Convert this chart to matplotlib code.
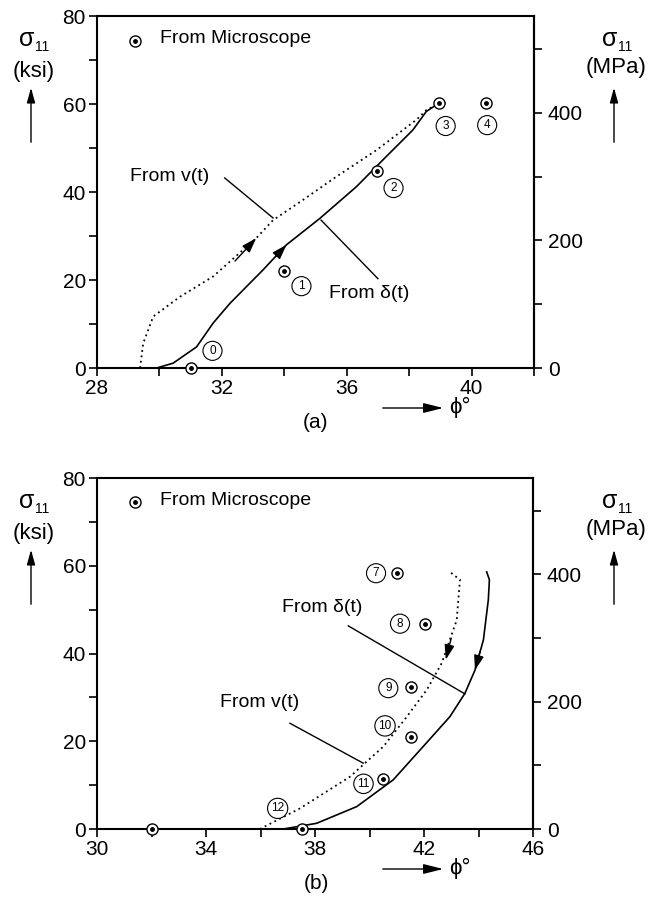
import matplotlib
matplotlib.use("Agg")
import matplotlib.pyplot as plt
from matplotlib.patches import FancyArrowPatch
from matplotlib.ticker import FixedLocator

plt.rcParams['font.family'] = ['Liberation Sans', 'DejaVu Sans']

KSI_TO_MPA = 6.894757

# ---- panel (a): loading ----
a_v_phi = [29.38, 29.48, 29.8, 30.66, 31.72, 33.1, 33.64, 34.6, 35.67, 36.95, 38.23, 38.55, 38.98]
a_v_sig = [0.0, 5.6, 11.7, 16.2, 20.8, 29.5, 33.6, 38.2, 43.5, 49.5, 56.4, 58.6, 60.2]
a_d_phi = [29.91, 30.44, 31.19, 31.72, 32.26, 33.32, 34.07, 35.14, 36.31, 37.16, 38.12, 38.55, 38.87, 39.14]
a_d_sig = [0.0, 1.1, 4.8, 10.2, 14.7, 22.3, 28.0, 34.0, 41.2, 47.3, 54.1, 58.3, 59.8, 60.2]
a_pt_phi = [31.0, 34.0, 36.97, 38.96, 40.46]
a_pt_sig = [0.0, 22.0, 44.8, 60.2, 60.2]
a_lab = ['0', '1', '2', '3', '4']
a_lab_phi = [31.7, 34.55, 37.5, 39.17, 40.5]
a_lab_sig = [3.9, 18.6, 40.9, 55.0, 55.2]
a_xticks = [28, 32, 36, 40]
a_xminor = [30, 34, 38, 42]

# ---- panel (b): unloading ----
b_v_phi = [35.98, 37.45, 39.28, 40.51, 41.37, 42.1, 42.65, 43.2, 43.32, 42.95]
b_v_sig = [0.0, 4.7, 11.9, 18.8, 25.6, 31.7, 37.8, 47.6, 56.8, 58.6]
b_d_phi = [36.84, 38.06, 39.53, 40.87, 41.97, 42.95, 43.5, 43.87, 44.18, 44.36, 44.4, 44.3]
b_d_sig = [0.0, 1.3, 5.1, 11.2, 18.8, 25.6, 30.9, 36.2, 43.1, 52.2, 56.8, 58.6]
b_pt_phi = [32.0, 37.51, 41.02, 42.04, 41.52, 41.52, 40.51]
b_pt_sig = [0.0, 0.0, 58.4, 46.8, 32.4, 20.9, 11.3]
b_lab = ['7', '8', '9', '10', '11', '12']
b_lab_phi = [40.24, 41.12, 40.69, 40.57, 39.78, 36.63]
b_lab_sig = [58.3, 46.8, 32.1, 23.5, 10.3, 4.7]
b_xticks = [30, 34, 38, 42, 46]
b_xminor = [32, 36, 40, 44]

ksi_ticks = [0, 20, 40, 60, 80]
ksi_minor = [10, 30, 50, 70]
mpa_ticks = [0, 200, 400]
mpa_minor = [100, 300, 500]

W, H = 648, 897
fig = plt.figure(figsize=(W / 100, H / 100), dpi=100)


def fx(px):
    return px / W


def fy(py):
    return 1 - py / H


def micro(ax, phi, sig):
    ax.plot(phi, sig, 'o', mfc='white', mec='black', ms=8, mew=1.0, clip_on=False, zorder=5)
    ax.plot(phi, sig, 'o', color='black', ms=2.5, clip_on=False, zorder=6)


def arrowhead(ax, tip, tail):
    ax.annotate('', xy=tip, xytext=tail,
                arrowprops=dict(arrowstyle='-|>,head_length=0.9,head_width=0.3',
                                color='black', lw=1.0, shrinkA=0, shrinkB=0,
                                mutation_scale=10))


def setup(ax, xlim, xticks, xminor, top_px):
    ax.set_xlim(*xlim)
    ax.set_ylim(0, 80)
    ax.xaxis.set_major_locator(FixedLocator(xticks))
    ax.xaxis.set_minor_locator(FixedLocator(xminor))
    ax.yaxis.set_major_locator(FixedLocator(ksi_ticks))
    ax.yaxis.set_minor_locator(FixedLocator(ksi_minor))
    ax.tick_params(which='both', direction='out', length=6, width=1.2, labelsize=15,
                   top=False, right=False, pad=2)
    for s in ax.spines.values():
        s.set_linewidth(1.5)
    sec = ax.secondary_yaxis('right', functions=(lambda k: k * KSI_TO_MPA,
                                                  lambda m: m / KSI_TO_MPA))
    sec.yaxis.set_major_locator(FixedLocator(mpa_ticks))
    sec.yaxis.set_minor_locator(FixedLocator(mpa_minor))
    sec.tick_params(which='both', direction='out', length=6, width=1.2, labelsize=15, pad=4)
    sec.spines['right'].set_linewidth(1.5)
    # axis titles
    fig.text(fx(27), fy(top_px + 23), 'σ', fontsize=18, ha='center', va='center')
    fig.text(fx(35), fy(top_px + 31), '11', fontsize=10, ha='left', va='center')
    fig.text(fx(34), fy(top_px + 55), '(ksi)', fontsize=16, ha='center', va='center')
    fig.text(fx(610), fy(top_px + 23), 'σ', fontsize=18, ha='center', va='center')
    fig.text(fx(618), fy(top_px + 31), '11', fontsize=10, ha='left', va='center')
    fig.text(fx(616), fy(top_px + 52), '(MPa)', fontsize=16, ha='center', va='center')
    for xp in (31, 614):
        fig.add_artist(FancyArrowPatch(
            (fx(xp), fy(top_px + 129)), (fx(xp), fy(top_px + 69)),
            transform=fig.transFigure, arrowstyle='-|>,head_length=0.9,head_width=0.25',
            mutation_scale=10, color='black', lw=1.0))
    ax.text(0.144, 0.935, 'From Microscope', transform=ax.transAxes, fontsize=14,
            ha='left', va='center')


def xlabel(bottom_px, tag):
    y = bottom_px + 40
    fig.add_artist(FancyArrowPatch(
        (fx(380), fy(y)), (fx(446), fy(y)), transform=fig.transFigure,
        arrowstyle='-|>,head_length=1.2,head_width=0.3', mutation_scale=10,
        color='black', lw=1.0))
    fig.text(fx(449), fy(y - 1), 'ϕ°', fontsize=16, ha='left', va='center')
    fig.text(fx(316), fy(y + 14), tag, fontsize=15, ha='center', va='center')


def circled(ax, phis, sigs, labs):
    for p, s, t in zip(phis, sigs, labs):
        ax.text(p, s, t, fontsize=8.5, ha='center', va='center',
                bbox=dict(boxstyle='circle,pad=0.3', fc='white', ec='black', lw=0.8))


# ---------------- (a) ----------------
ax1 = fig.add_axes([fx(97), fy(368), fx(534) - fx(97), fy(16) - fy(368)])
setup(ax1, (28, 42), a_xticks, a_xminor, 16)
ax1.plot(a_v_phi, a_v_sig, color='black', lw=1.3, ls=(0, (1, 2)))
ax1.plot(a_d_phi, a_d_sig, color='black', lw=1.2)
arrowhead(ax1, (a_v_phi[5], a_v_sig[5]), (a_v_phi[4] + 0.7, a_v_sig[4] + 3.5))
arrowhead(ax1, (a_d_phi[6], a_d_sig[6]), (a_d_phi[5] + 0.4, a_d_sig[5] + 3.0))
micro(ax1, a_pt_phi, a_pt_sig)
micro(ax1, [29.22], [74.3])
circled(ax1, a_lab_phi, a_lab_sig, a_lab)
ax1.text(29.05, 43.5, 'From v(t)', fontsize=14, ha='left', va='center')
ax1.plot([32.09, 33.64], [43.2, 34.1], color='black', lw=1.0)
ax1.text(35.43, 16.9, 'From δ(t)', fontsize=14, ha='left', va='center')
ax1.plot([35.18, 37.0], [33.6, 20.3], color='black', lw=1.0)
xlabel(368, '(a)')

# ---------------- (b) ----------------
ax2 = fig.add_axes([fx(97), fy(829), fx(533) - fx(97), fy(478) - fy(829)])
setup(ax2, (30, 46), b_xticks, b_xminor, 478)
ax2.plot(b_v_phi, b_v_sig, color='black', lw=1.3, ls=(0, (1, 2)))
ax2.plot(b_d_phi, b_d_sig, color='black', lw=1.2)
arrowhead(ax2, (42.8, 38.6), (43.0, 43.5))
arrowhead(ax2, (b_d_phi[7], b_d_sig[7]), (44.06, 40.5))
micro(ax2, b_pt_phi, b_pt_sig)
micro(ax2, [31.4], [74.6])
circled(ax2, b_lab_phi, b_lab_sig, b_lab)
ax2.text(34.5, 28.9, 'From v(t)', fontsize=14, ha='left', va='center')
ax2.plot([37.08, 39.77], [24.1, 15.0], color='black', lw=1.0)
ax2.text(36.78, 50.4, 'From δ(t)', fontsize=14, ha='left', va='center')
ax2.plot([39.22, 43.5], [46.3, 30.8], color='black', lw=1.0)
xlabel(829, '(b)')

fig.savefig('out.png', dpi=100)
